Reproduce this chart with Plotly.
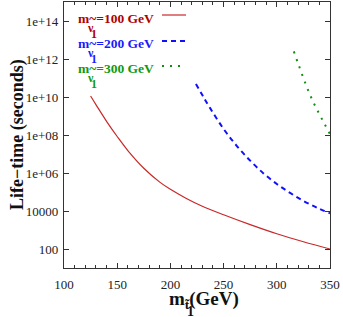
import plotly.graph_objects as go

# ---- data ----
red_mass = [125, 130, 140, 150, 160, 175, 190, 200, 215, 230, 250, 275, 300, 325, 350]
red_log_life = [10.05, 9.60, 8.72, 7.92, 7.18, 6.25, 5.52, 5.14, 4.66, 4.25, 3.80, 3.28, 2.80, 2.38, 2.0]

blue_mass = [224, 230, 237.5, 250, 262.5, 275, 287.5, 300, 312.5, 325, 337.5, 350]
blue_log_life = [10.68, 10.1, 9.4, 8.32, 7.42, 6.65, 5.98, 5.42, 4.95, 4.53, 4.18, 3.88]

green_mass = [316, 320, 325, 330, 335, 340, 345, 350]
green_log_life = [12.4, 11.77, 11.0, 10.28, 9.65, 9.1, 8.57, 8.05]

series_labels = ["m~=100 GeV", "m~=200 GeV", "m~=300 GeV"]
series_colors = ["#c82828", "#1010ff", "#109010"]
series_text_colors = ["#b00000", "#1a1aff", "#119911"]

x_tickvals = [100, 150, 200, 250, 300, 350]
y_tickvals = [1e2, 1e4, 1e6, 1e8, 1e10, 1e12, 1e14]
y_ticktext = ["100", "10000", "1e+06", "1e+08", "1e+10", "1e+12", "1e+14"]

W, H = 343, 317
L, R, T, B = 64, 330, 2, 268  # plot area in pixels


def px(xp):
    return (xp - L) / (R - L)


def py(yp):
    return 1 - (yp - T) / (B - T)


fig = go.Figure()
fig.add_trace(go.Scatter(x=red_mass, y=[10 ** v for v in red_log_life], mode="lines",
                         line=dict(color=series_colors[0], width=1.2, shape="spline"),
                         showlegend=False))
fig.add_trace(go.Scatter(x=blue_mass, y=[10 ** v for v in blue_log_life], mode="lines",
                         line=dict(color=series_colors[1], width=2, dash="5px,4px", shape="spline"),
                         showlegend=False))
fig.add_trace(go.Scatter(x=green_mass, y=[10 ** v for v in green_log_life], mode="lines",
                         line=dict(color=series_colors[2], width=2, dash="2px,6px", shape="spline"),
                         showlegend=False))

serif = "Liberation Serif"
axis_common = dict(showline=True, linecolor="#333", linewidth=1.2, mirror="ticks",
                   ticks="inside", tickcolor="#333", showgrid=False, zeroline=False,
                   tickfont=dict(family=serif, size=13, color="#222"))

fig.update_xaxes(range=[100, 350], tickvals=x_tickvals, ticklen=5,
                 minor=dict(dtick=10, ticks="inside", ticklen=3, tickcolor="#333", showgrid=False),
                 ticklabelstandoff=4, **axis_common)
fig.update_yaxes(type="log", range=[1, 15], tickvals=y_tickvals, ticktext=y_ticktext, ticklen=5,
                 ticklabelstandoff=2, **axis_common)

annotations = []
# axis titles
annotations.append(dict(text="<b>Life−time (seconds)</b>", xref="paper", yref="paper",
                        x=px(17), y=py(135), textangle=-90, showarrow=False,
                        font=dict(family=serif, size=18, color="#111"),
                        xanchor="center", yanchor="middle"))
annotations.append(dict(text="<b>m<sub>t̃</sub>(GeV)</b>", xref="paper", yref="paper",
                        x=px(204), y=py(300), showarrow=False,
                        font=dict(family=serif, size=19, color="#111"),
                        xanchor="center", yanchor="middle"))
annotations.append(dict(text="<b>1</b>", xref="paper", yref="paper",
                        x=px(190), y=py(311), showarrow=False,
                        font=dict(family=serif, size=14, color="#111"),
                        xanchor="center", yanchor="middle"))

# legend texts
leg_y = [18, 43, 68]
line_y = [15, 41, 66]
shapes = []
dashes = ["solid", "5px,4px", "2px,6px"]
widths = [1.2, 2, 2]
for i in range(3):
    annotations.append(dict(text="<b>" + series_labels[i] + "</b>", xref="paper", yref="paper",
                            x=px(76), y=py(leg_y[i]), showarrow=False, xanchor="left", yanchor="middle",
                            font=dict(family=serif, size=13.5, color=series_text_colors[i])))
    annotations.append(dict(text="<b>ν</b>", xref="paper", yref="paper",
                            x=px(90), y=py(leg_y[i] + 10), showarrow=False, xanchor="center", yanchor="middle",
                            font=dict(family=serif, size=12, color=series_text_colors[i])))
    annotations.append(dict(text="<b>1</b>", xref="paper", yref="paper",
                            x=px(94), y=py(leg_y[i] + 16), showarrow=False, xanchor="center", yanchor="middle",
                            font=dict(family=serif, size=12, color=series_text_colors[i])))
    shapes.append(dict(type="line", xref="paper", yref="paper", x0=px(162), x1=px(186),
                       y0=py(line_y[i]), y1=py(line_y[i]),
                       line=dict(color=series_colors[i], width=widths[i], dash=dashes[i])))

fig.update_layout(width=W, height=H, margin=dict(l=L, r=W - R, t=T, b=H - B),
                  plot_bgcolor="white", paper_bgcolor="white",
                  annotations=annotations, shapes=shapes, showlegend=False)

fig.write_html("out.html", config={"displayModeBar": False},
               post_script="document.body.style.margin='0';")
